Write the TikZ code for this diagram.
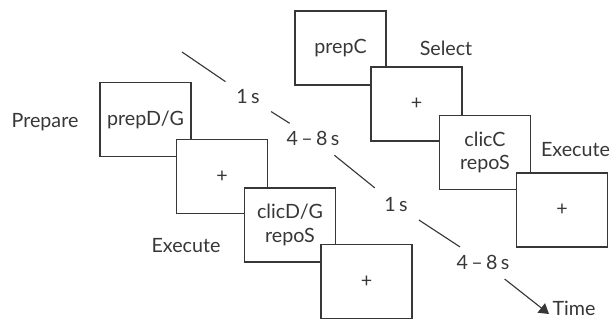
\documentclass[tikz,border=0pt]{standalone}
\usepackage{fontspec}
\setmainfont{Lato}
\definecolor{inkgray}{RGB}{55,55,55}
\usetikzlibrary{arrows.meta,positioning}

\begin{document}
\begin{tikzpicture}[
    font=\fontsize{14}{16.5}\selectfont, text=inkgray,
    screen/.style={draw=inkgray, line width=0.8pt, fill=white, align=center,
        minimum width=2.275cm, minimum height=1.85cm, inner sep=0pt},
    dur/.style={circle, minimum size=1.35cm, inner sep=0pt},
    axis/.style={draw=inkgray, line width=0.8pt}
]
    \useasboundingbox (0,0) rectangle (15.275,8.05);

    % Left trial
    \node[screen] (pL) at (3.6375,5.0625) {prepD/G};
    \node[screen] (fL) at (5.55,3.6375) {+};
    \node[screen] (cL) at (7.25,2.425) {clicD/G\\repoS};
    \node[screen] (eL) at (9.1625,1.0125) {+};

    % Right trial
    \node[screen] (pR) at (8.5125,6.85) {prepC};
    \node[screen] (fR) at (10.4125,5.45) {+};
    \node[screen] (cR) at (12.125,4.2375) {clicC\\repoS};
    \node[screen] (eR) at (14.05,2.8) {+};

    % Phase labels
    \node (prepare) at (1.125,5.0) {Prepare};
    \node (execL) at (4.65,1.9) {Execute};
    \node (select) at (11.15,6.85) {Select};
    \node (execR) at (14.3875,4.3) {Execute};

    % Time line
    \coordinate (t0) at (4.55,6.75);
    \node[dur] (s1) at (6.2,5.625) {1\,s};
    \node[dur] (d1) at (7.825,4.6) {4\,–\,8\,s};
    \node[dur] (s2) at (9.9,2.925) {1\,s};
    \node[dur] (d2) at (12.075,1.5) {4\,–\,8\,s};
    \coordinate (tend) at (13.725,0.2);

    \draw[axis] (t0) -- (s1);
    \draw[axis] (s1) -- (d1);
    \draw[axis] (d1) -- (s2);
    \draw[axis] (s2) -- (d2);
    \draw[axis, -{Triangle[length=7pt,width=8.5pt]}, fill=inkgray] (d2) -- (tend);
    \node[right=-1pt of tend, anchor=base west, yshift=-1pt] (time) {Time};
\end{tikzpicture}
\end{document}
